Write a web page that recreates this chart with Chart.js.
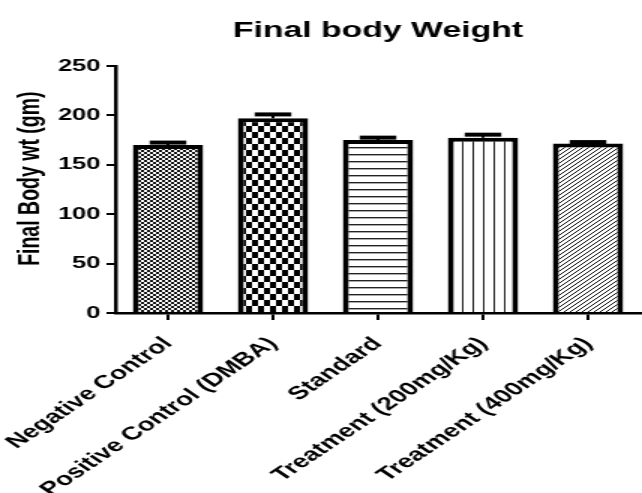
<!DOCTYPE html>
<html>
<head>
<meta charset="utf-8">
<script src="https://cdn.jsdelivr.net/npm/chart.js@4"></script>
<style>
  body { margin: 0; background: #fff; overflow: hidden; }
  /* the reference is stretched sideways, so draw narrow and scale it out */
  #wrap { width: 428px; height: 493px; transform: scaleX(1.5); transform-origin: 0 0; }
</style>
</head>
<body>
<div id="wrap"><canvas id="weightChart"></canvas></div>
<script>
// Chart data
const groups = ['Negative Control', 'Positive Control (DMBA)', 'Standard', 'Treatment (200mg/Kg)', 'Treatment (400mg/Kg)'];
const weights = [170, 197, 175, 177.5, 171.5];
const errors = [2.5, 4, 2.5, 3, 1.5];
const yTicks = [0, 50, 100, 150, 200, 250];

const FONT = '"Liberation Sans", Arial, sans-serif';

// Build a small tile and turn it into a fill pattern
function makePattern(w, h, draw) {
    const c = document.createElement('canvas');
    c.width = w;
    c.height = h;
    const g = c.getContext('2d');
    g.fillStyle = '#fff';
    g.fillRect(0, 0, w, h);
    draw(g, w, h);
    return document.createElement('canvas').getContext('2d').createPattern(c, 'repeat');
}

const patterns = [
    // fine checks
    makePattern(4, 4, (g) => {
        g.fillStyle = '#111';
        g.fillRect(0, 0, 2, 2);
        g.fillRect(2, 2, 2, 2);
    }),
    // coarse checks
    makePattern(8, 12, (g) => {
        g.fillStyle = '#000';
        g.fillRect(0, 0, 4, 6);
        g.fillRect(4, 6, 4, 6);
    }),
    // horizontal lines
    makePattern(4, 7, (g, w) => {
        g.fillStyle = '#222';
        g.fillRect(0, 0, w, 1);
        g.fillStyle = '#aaa';
        g.fillRect(0, 1, w, 1);
    }),
    // vertical lines
    makePattern(7, 4, (g, w, h) => {
        g.fillStyle = '#222';
        g.fillRect(0, 0, 1, h);
    }),
    // diagonal hatching
    makePattern(4, 4, (g, s) => {
        g.strokeStyle = '#111';
        g.lineWidth = 1;
        g.beginPath();
        g.moveTo(0, s); g.lineTo(s, 0);
        g.moveTo(-1, 1); g.lineTo(1, -1);
        g.moveTo(s - 1, s + 1); g.lineTo(s + 1, s - 1);
        g.stroke();
    })
];

// Draws the upper error bar on every bar
const errorBars = {
    id: 'errorBars',
    afterDatasetsDraw(chart) {
        const ctx = chart.ctx;
        const yScale = chart.scales.y;
        const meta = chart.getDatasetMeta(0);
        ctx.save();
        ctx.strokeStyle = '#000';
        meta.data.forEach((bar, i) => {
            const top = yScale.getPixelForValue(weights[i] + errors[i]);
            const half = bar.width * 0.26;
            ctx.lineWidth = 2;
            ctx.beginPath();
            ctx.moveTo(bar.x, bar.y);
            ctx.lineTo(bar.x, top);
            ctx.stroke();
            ctx.lineWidth = 4;
            ctx.beginPath();
            ctx.moveTo(bar.x - half, top);
            ctx.lineTo(bar.x + half, top);
            ctx.stroke();
        });
        ctx.restore();
    }
};

const ctx = document.getElementById('weightChart').getContext('2d');
new Chart(ctx, {
    type: 'bar',
    data: {
        labels: groups,
        datasets: [{
            data: weights,
            backgroundColor: patterns,
            borderColor: '#000',
            borderWidth: 4,
            borderSkipped: 'start',
            categoryPercentage: 1,
            barPercentage: 0.67
        }]
    },
    options: {
        responsive: true,
        maintainAspectRatio: false,
        animation: false,
        layout: { padding: { left: 0, right: 1, top: 0, bottom: 0 } },
        plugins: {
            legend: { display: false },
            tooltip: { enabled: false },
            title: {
                display: true,
                text: 'Final body Weight',
                fullSize: false,
                color: '#000',
                font: { family: FONT, size: 22.5, weight: 'bold' },
                padding: { top: 17, bottom: 22 }
            }
        },
        scales: {
            x: {
                // fixed height; long labels are allowed to run off the bottom like the original
                afterFit: (scale) => {
                    scale.height = 180;
                    scale.paddingLeft = 0;
                    scale.paddingRight = 0;
                },
                grid: {
                    offset: false,
                    drawOnChartArea: false,
                    drawTicks: true,
                    tickLength: 7,
                    lineWidth: 2,
                    color: '#000'
                },
                border: { display: true, color: '#000', width: 2.5 },
                ticks: {
                    color: '#000',
                    font: { family: FONT, size: 18.5, weight: 'bold' },
                    maxRotation: 45,
                    minRotation: 45,
                    autoSkip: false,
                    padding: 13
                }
            },
            y: {
                min: 0,
                max: 250,
                afterFit: (scale) => { scale.width = 77; },
                afterBuildTicks: (scale) => {
                    scale.ticks = yTicks.map(v => ({ value: v }));
                },
                grid: {
                    drawOnChartArea: false,
                    drawTicks: true,
                    tickLength: 6,
                    lineWidth: 2,
                    color: '#000'
                },
                border: { display: true, color: '#000', width: 2.5 },
                ticks: {
                    color: '#000',
                    font: { family: FONT, size: 17, weight: 'bold' },
                    padding: 4
                },
                title: {
                    display: true,
                    // leading spaces nudge the rotated title up a little, as in the reference
                    text: '    Final Body wt (gm)',
                    color: '#000',
                    font: { family: FONT, size: 19.5, weight: 'bold' },
                    padding: { top: 9, bottom: 0 }
                }
            }
        }
    },
    plugins: [errorBars]
});
</script>
</body>
</html>
